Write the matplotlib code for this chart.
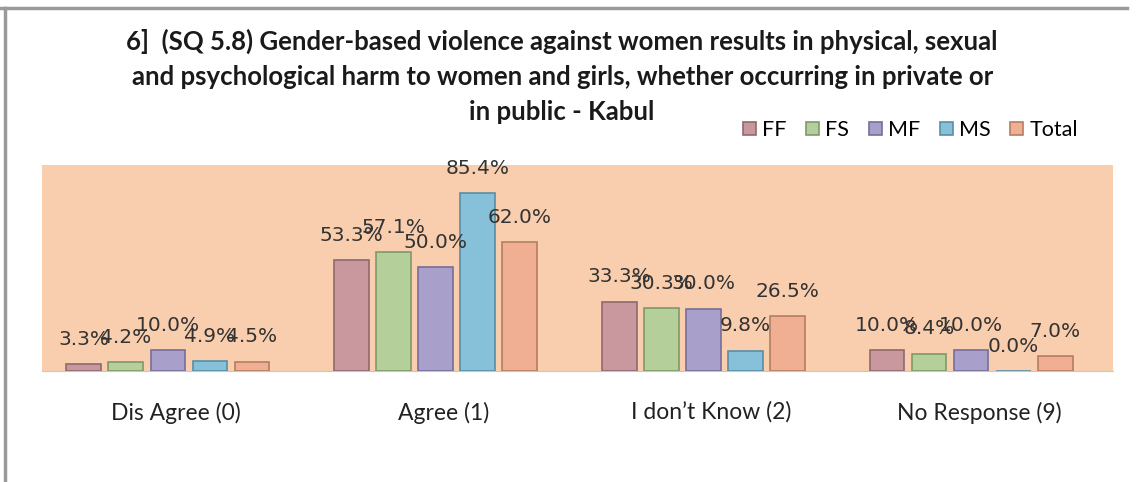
import matplotlib.pyplot as plt
import numpy as np
from matplotlib.lines import Line2D

categories = ["Dis Agree (0)", "Agree (1)", "I don\u2019t Know (2)", "No Response (9)"]
series_names = ["FF", "FS", "MF", "MS", "Total"]
ff = [3.3, 53.3, 33.3, 10.0]
fs = [4.2, 57.1, 30.3, 8.4]
mf = [10.0, 50.0, 30.0, 10.0]
ms = [4.9, 85.4, 9.8, 0.0]
total = [4.5, 62.0, 26.5, 7.0]

colors = ["#c9989f", "#b4cf9a", "#a99fcb", "#87c1d9", "#f0ae92"]
edges = ["#8e6a70", "#7f9a6a", "#766e9a", "#5b8ea6", "#b57d64"]

title = ("6]  (SQ 5.8) Gender-based violence against women results in physical, sexual\n"
         "and psychological harm to women and girls, whether occurring in private or\n"
         "in public - Kabul")

narrow = ["Lato", "DejaVu Sans"]

fig = plt.figure(figsize=(11.38, 4.82), dpi=100)
ax = fig.add_axes([0.037, 0.2303, 0.941, 0.4274])
ax.set_facecolor("#f9ceae")

x = np.arange(len(categories))
width = 0.13
step = 0.157
all_data = [ff, fs, mf, ms, total]
handles = []
for i, vals in enumerate(all_data):
    pos = x + (i - 2) * step - 0.03
    bars = ax.bar(pos, vals, width, color=colors[i], edgecolor=edges[i], linewidth=1.2,
                  label=series_names[i], zorder=3)
    handles.append(bars)
    for p, v in zip(pos, vals):
        ax.annotate(f"{v:.1f}%", (p, v), xytext=(0, 11), textcoords="offset points",
                    ha="center", va="bottom", fontsize=14.5, color="#333333", zorder=5)

ax.set_xlim(-0.5, len(categories) - 0.5)
ax.set_ylim(0, 99)
ax.set_yticks([])
ax.set_xticks(x)
ax.set_xticklabels(categories, fontsize=16.5, family=narrow, color="#222222")
ax.tick_params(axis="x", length=0, pad=22)
for s in ["top", "left", "right"]:
    ax.spines[s].set_visible(False)
ax.spines["bottom"].set_color("#c0c8d0")

fig.text(0.494, 0.94, title, ha="center", va="top", fontsize=18.5, fontweight="bold",
         family=narrow, linespacing=1.55, color="#1a1a1a")

fig.legend(handles=handles, labels=series_names, loc="center", bbox_to_anchor=(0.80, 0.73),
           ncol=5, frameon=False, prop={"family": narrow, "size": 15.5},
           handlelength=0.6, handleheight=0.6, handletextpad=0.3, columnspacing=0.9,
           borderpad=0.2)

# outer frame lines
fig.add_artist(Line2D([0, 0.99], [0.983, 0.983], color="#9a9a9a", lw=2.5, transform=fig.transFigure))
fig.add_artist(Line2D([0.004, 0.004], [0, 0.983], color="#9a9a9a", lw=2.5, transform=fig.transFigure))

fig.savefig("out.png", dpi=100)
